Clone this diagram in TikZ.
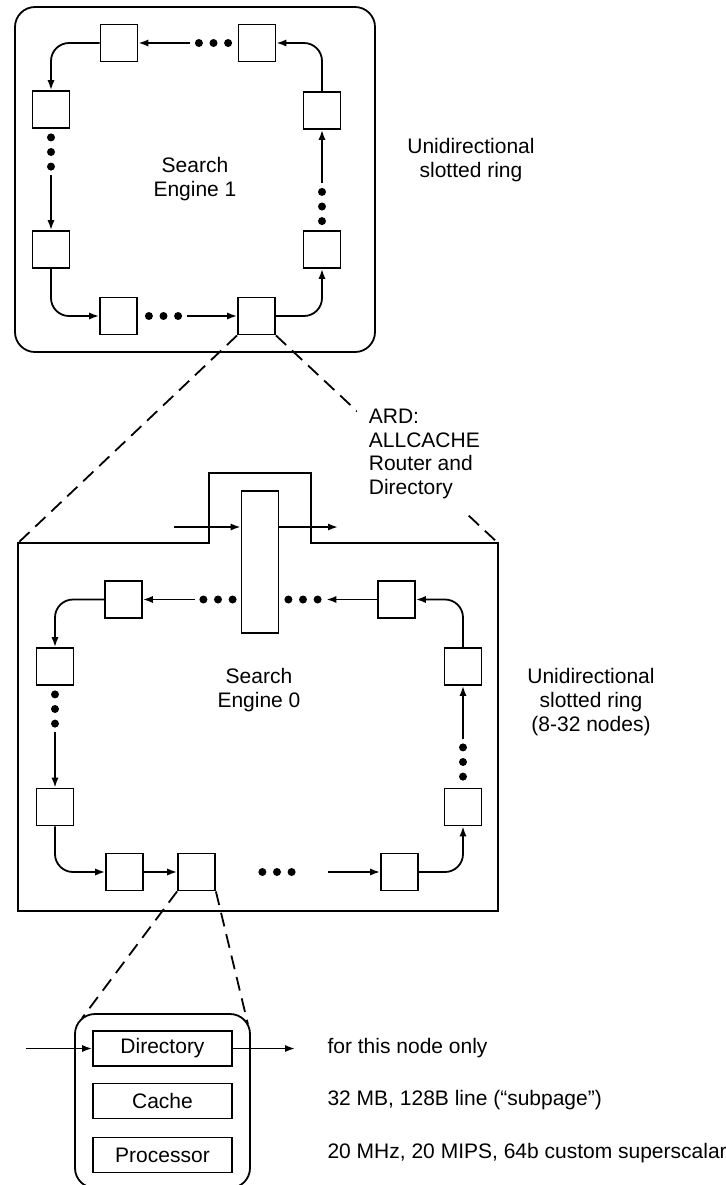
\documentclass[tikz,border=0pt]{standalone}
\usepackage{fontspec}
\setmainfont{Liberation Sans}
\usetikzlibrary{arrows.meta, calc}

\begin{document}
\begin{tikzpicture}[
    x=0.5pt, y=-0.5pt,
    >={Latex[length=5pt, width=3.6pt]},
    font=\fontsize{10.5}{12}\selectfont,
    line width=0.9pt,
    slot/.style={
        draw, rectangle, inner sep=0pt,
        minimum width=18.5pt, minimum height=18.5pt,
    },
    enginebox/.style={
        draw, rectangle, rounded corners=10pt, align=center,
    },
    part/.style={
        draw, rectangle, inner sep=0pt,
        minimum width=69.5pt, minimum height=17.5pt,
    },
    ring/.style={->, rounded corners=9pt},
    hdots/.style={
        inner sep=0pt, minimum width=22.5pt, minimum height=6pt,
        path picture={
            \foreach \k in {-1,0,1}
                \fill ($(path picture bounding box.center)+(\k*7.3pt,0pt)$) circle (2pt);
        },
    },
    vdots/.style={
        inner sep=0pt, minimum width=6pt, minimum height=22.5pt,
        path picture={
            \foreach \k in {-1,0,1}
                \fill ($(path picture bounding box.center)+(0pt,\k*7.3pt)$) circle (2pt);
        },
    },
    zoomline/.style={dash pattern=on 7pt off 4pt},
    note/.style={anchor=west},
]

\useasboundingbox (0,0) rectangle (725,1185);

% =============== Search Engine 1 ===============
\node[enginebox, minimum width=180pt, minimum height=172.5pt] (eng1)
    at (195,179.5) {Search\\Engine 1};
\node[slot] (a1) at (257,43) {};
\node[slot] (a2) at (119,43) {};
\node[slot] (a3) at (51,109.5) {};
\node[slot] (a4) at (51,249.5) {};
\node[slot] (a5) at (118.5,316) {};
\node[slot] (a6) at (256.5,316) {};
\node[slot] (a7) at (322,249.5) {};
\node[slot] (a8) at (322,110.5) {};
\node[hdots] (dtop) at (213.5,43) {};
\node[vdots] (dleft) at (51,152) {};
\node[hdots] (dbot) at (163.5,316) {};
\node[vdots] (dright) at (322,206.5) {};
\draw[ring] (a8.north) |- (a1.east);
\draw[->] (dtop) -- (a2);
\draw[ring] (a2.west) -| (a3.north);
\draw[->] (dleft) -- (a4);
\draw[ring] (a4.south) |- (a5.west);
\draw[->] (dbot) -- (a6);
\draw[ring] (a6.east) -| (a7.south);
\draw[->] (dright) -- (a8);
\node[align=center] (ring1) at (471,160) {Unidirectional\\slotted ring};

% =============== Search Engine 0 ===============
\coordinate (e0nw) at (18,543);
\coordinate (e0ne) at (498,543);
\draw (e0nw) -- (209,543) -- (209,473) -- (311,473) -- (311,543)
    -- (e0ne) -- (498,911) -- (18,911) -- cycle;
\node[slot, minimum height=71pt] (ard) at (260,562) {};
\coordinate (ardin) at (174,527);
\coordinate (ardout) at (338,527);
\draw[->] (ardin) -- (ardin -| ard.west);
\draw[->] (ardin -| ard.east) -- (ardout);

\node[slot] (b1) at (396.5,599.5) {};
\node[slot] (b2) at (123.5,599.5) {};
\node[slot] (b3) at (55,666.5) {};
\node[slot] (b4) at (55,807) {};
\node[slot] (b5) at (124.5,872) {};
\node[slot] (b6) at (196.5,872) {};
\node[slot] (b7) at (399.5,872) {};
\node[slot] (b8) at (463,807) {};
\node[slot] (b9) at (463,666.5) {};
\node[hdots] (dl) at (218,599.5) {};
\node[hdots] (dr) at (303,599.5) {};
\node[vdots] (dl0) at (55,709) {};
\node[hdots] (db0) at (277,872) {};
\node[vdots] (dr0) at (463,762) {};
\coordinate (bin) at (328,872);
\draw[->] (b1) -- (dr);
\draw[->] (dl) -- (b2);
\draw[ring] (b2.west) -| (b3.north);
\draw[->] (dl0) -- (b4);
\draw[ring] (b4.south) |- (b5.west);
\draw[->] (b5) -- (b6);
\draw[->] (bin) -- (b7);
\draw[ring] (b7.east) -| (b8.south);
\draw[->] (dr0) -- (b9);
\draw[ring] (b9.north) |- (b1.east);
\node[align=center] (eng0lbl) at (259,690) {Search\\Engine 0};
\node[align=center] (ring0) at (591,702)
    {Unidirectional\\slotted ring\\(8-32 nodes)};

% =============== One node in detail ===============
\node[draw, rounded corners=10pt, minimum width=87.5pt, minimum height=87pt]
    (detail) at (162.5,1101) {};
\node[part] (dir) at (162.5,1048.5) {Directory};
\node[part] (cache) at (162.5,1101) {Cache};
\node[part] (proc) at (162.5,1155) {Processor};
\coordinate (din) at (26,1048.5);
\coordinate (dout) at (295,1048.5);
\draw[->] (din) -- (dir);
\draw[->] (dir) -- (dout);
\node[note] (note1) at (320,1048) {for this node only};
\node[note] (note2) at (320,1100) {32 MB, 128B line (“subpage”)};
\node[note] (note3) at (320,1153) {20 MHz, 20 MIPS, 64b custom superscalar};

% =============== Zoom lines ===============
\draw[zoomline] (a6.south west) -- (e0nw);
\draw[zoomline] (a6.south east) -- (e0ne);
\draw[zoomline] (b6.south west) -- ($(detail.north west)+(8,5)$);
\draw[zoomline] (b6.south east) -- ($(detail.north east)+(-3,11)$);

% ARD label sits on top of the zoom line
\node[align=left, anchor=west, fill=white, inner sep=6pt,
    font=\fontsize{10.5}{11.7}\selectfont] (ardlbl)
    at (356,454) {ARD:\\ALLCACHE\\Router and\\Directory};

\end{tikzpicture}
\end{document}
